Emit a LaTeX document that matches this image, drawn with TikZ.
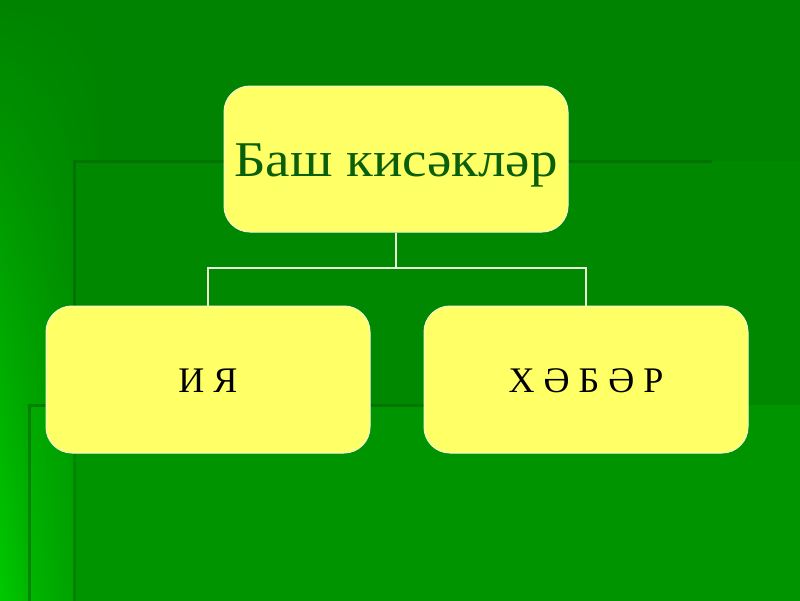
\documentclass[tikz,border=0pt]{standalone}
\usepackage{fontspec}
\setmainfont{Liberation Serif}
\newfontfamily\widefont[FakeStretch=1.1]{Liberation Serif}
\usetikzlibrary{shadings}
\definecolor{bgbase}{HTML}{008300}
\definecolor{bgbl}{HTML}{00CC00}
\definecolor{panelA}{HTML}{008800}
\definecolor{panelB}{HTML}{00B800}
\definecolor{edge}{HTML}{006600}
\definecolor{boxfill}{HTML}{FFFF66}
\definecolor{boxedge}{HTML}{F4F8D8}
\definecolor{topText}{HTML}{0A5F0A}
\definecolor{linkcol}{HTML}{E8F2D8}
\tikzset{
  cardbox/.style={rectangle, rounded corners=26pt, fill=boxfill, draw=boxedge, line width=1pt,
     inner sep=0pt, align=center},
  link/.style={draw=linkcol, line width=2.2pt},
  edgeline/.style={draw=edge, line width=3pt}
}
\begin{document}
\begin{tikzpicture}[x=1pt,y=-1pt]
\useasboundingbox (0,0) rectangle (800,600);
\clip (0,0) rectangle (800,600);
% background
\fill[bgbase] (-5,-5) rectangle (805,605);
\shade[lower left=bgbl, upper left=bgbase, upper right=bgbase, lower right=bgbase] (-5,-5) rectangle (110,605);
\fill[panelA] (74,161) rectangle (805,605);
\draw[edgeline, draw opacity=0.6] (74,605) -- (74,161) -- (712,161);
\fill[panelB, fill opacity=0.25] (28,405) rectangle (805,605);
\draw[edgeline, draw opacity=0.6] (29,605) -- (29,405) -- (740,405);
% boxes
\node[cardbox, minimum width=344pt, minimum height=146pt, text height=35pt, text depth=0pt,
  font=\widefont\fontsize{50}{50}\selectfont, text=topText] (top) at (396,159) {Баш кисәкләр};
\node[cardbox, minimum width=324pt, minimum height=147pt, text height=25pt, text depth=0pt,
  font=\fontsize{36}{36}\selectfont, text=black] (left) at (208,379.5) {И Я};
\node[cardbox, minimum width=324pt, minimum height=147pt, text height=25pt, text depth=0pt,
  font=\fontsize{36}{36}\selectfont, text=black] (right) at (586,379.5) {Х Ә Б Ә Р};
% connectors
\coordinate (junction) at (396,268);
\draw[link] (top.south) -- (junction);
\draw[link] (junction) -| (left.north);
\draw[link] (junction) -| (right.north);
\end{tikzpicture}
\end{document}
